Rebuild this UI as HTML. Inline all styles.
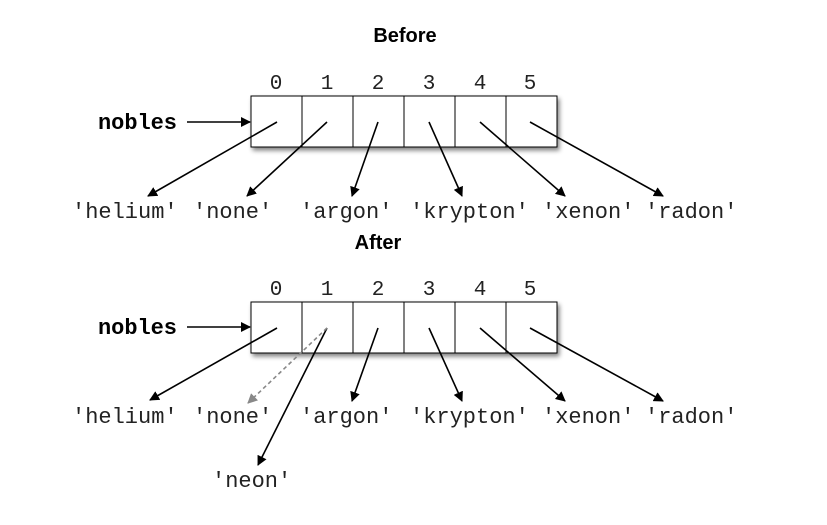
<!DOCTYPE html>
<html><head><style>body{margin:0;background:#fff}</style></head><body>
<svg width="827" height="520" xmlns="http://www.w3.org/2000/svg">
<defs>
<marker id="a" markerWidth="10" markerHeight="10" refX="9" refY="5" orient="auto" markerUnits="userSpaceOnUse" viewBox="0 0 10 10"><path d="M0,0 L10,5 L0,10 z" fill="#000"/></marker>
<marker id="g" markerWidth="10" markerHeight="10" refX="9" refY="5" orient="auto" markerUnits="userSpaceOnUse" viewBox="0 0 10 10"><path d="M0,0 L10,5 L0,10 z" fill="#888"/></marker>
<filter id="s" x="-10%" y="-20%" width="130%" height="160%"><feGaussianBlur in="SourceAlpha" stdDeviation="2.5"/><feOffset dx="2" dy="3"/><feComponentTransfer><feFuncA type="linear" slope="0.5"/></feComponentTransfer><feMerge><feMergeNode/><feMergeNode in="SourceGraphic"/></feMerge></filter>
</defs>
<g font-family="Liberation Sans, sans-serif" font-weight="bold" font-size="20" text-anchor="middle">
<text x="405" y="42">Before</text><text x="378" y="249">After</text></g>
<rect x="251" y="96" width="306" height="51" fill="#fff" stroke="#000" filter="url(#s)"/>
<g stroke="#000"><line x1="302" y1="96" x2="302" y2="147"/><line x1="353" y1="96" x2="353" y2="147"/><line x1="404" y1="96" x2="404" y2="147"/><line x1="455" y1="96" x2="455" y2="147"/><line x1="506" y1="96" x2="506" y2="147"/></g>
<rect x="251" y="302" width="306" height="51" fill="#fff" stroke="#000" filter="url(#s)"/>
<g stroke="#000"><line x1="302" y1="302" x2="302" y2="353"/><line x1="353" y1="302" x2="353" y2="353"/><line x1="404" y1="302" x2="404" y2="353"/><line x1="455" y1="302" x2="455" y2="353"/><line x1="506" y1="302" x2="506" y2="353"/></g>
<g font-family="Liberation Mono, monospace" font-size="21" text-anchor="middle" fill="#222">
<text x="276" y="89">0</text><text x="327" y="89">1</text><text x="378" y="89">2</text><text x="429" y="89">3</text><text x="480" y="89">4</text><text x="530" y="89">5</text>
<text x="276" y="295">0</text><text x="327" y="295">1</text><text x="378" y="295">2</text><text x="429" y="295">3</text><text x="480" y="295">4</text><text x="530" y="295">5</text>
</g>
<g font-family="Liberation Mono, monospace" font-size="22" font-weight="bold">
<text x="98" y="129" textLength="79">nobles</text><text x="98" y="334" textLength="79">nobles</text></g>
<g font-family="Liberation Mono, monospace" font-size="22" fill="#222">
<text x="72" y="218">'helium'</text><text x="193" y="218">'none'</text><text x="300" y="218">'argon'</text><text x="410" y="218">'krypton'</text><text x="542" y="218">'xenon'</text><text x="645" y="218">'radon'</text>
<text x="72" y="423">'helium'</text><text x="193" y="423">'none'</text><text x="300" y="423">'argon'</text><text x="410" y="423">'krypton'</text><text x="542" y="423">'xenon'</text><text x="645" y="423">'radon'</text>
<text x="212" y="487">'neon'</text>
</g>
<g stroke="#000" stroke-width="1.6" marker-end="url(#a)">
<line x1="187" y1="122" x2="250" y2="122"/>
<line x1="277" y1="122" x2="148" y2="196"/>
<line x1="327" y1="122" x2="247" y2="196"/>
<line x1="378" y1="122" x2="352" y2="196"/>
<line x1="429" y1="122" x2="462" y2="196"/>
<line x1="480" y1="122" x2="565" y2="196"/>
<line x1="530" y1="122" x2="663" y2="196"/>
<line x1="187" y1="327" x2="250" y2="327"/>
<line x1="277" y1="328" x2="150" y2="400"/>
<line x1="327" y1="328" x2="258" y2="465"/>
<line x1="378" y1="328" x2="352" y2="401"/>
<line x1="429" y1="328" x2="462" y2="401"/>
<line x1="480" y1="328" x2="565" y2="401"/>
<line x1="530" y1="328" x2="663" y2="401"/>
</g>
<line x1="327" y1="328" x2="248" y2="403" stroke="#888" stroke-width="1.6" stroke-dasharray="4,3" marker-end="url(#g)"/>
</svg>
</body></html>
